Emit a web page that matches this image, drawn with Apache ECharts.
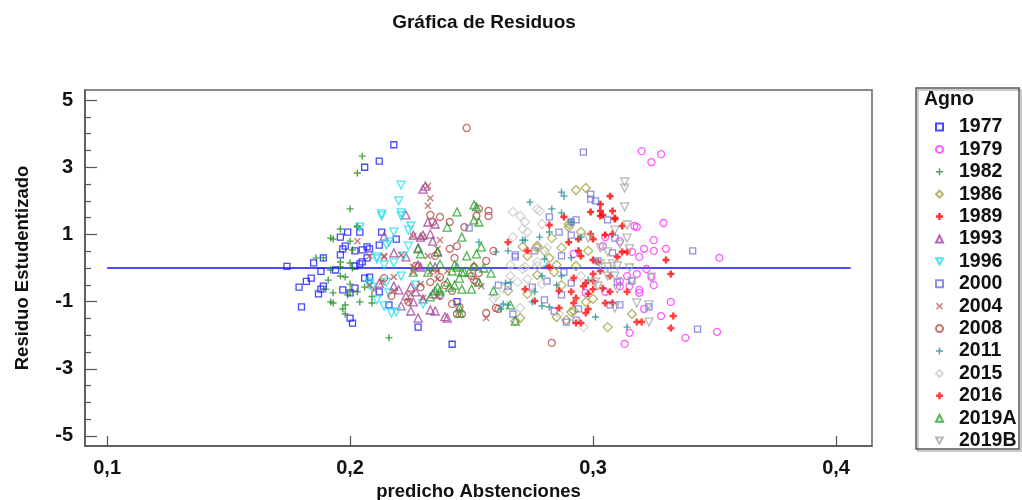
<!DOCTYPE html>
<html>
<head>
<meta charset="utf-8">
<title>Gráfica de Residuos</title>
<script src="https://cdn.jsdelivr.net/npm/echarts@6/dist/echarts.min.js"></script>
<style>
  html, body { margin: 0; padding: 0; background: #fff; }
  #chart { width: 1022px; height: 500px; }
</style>
</head>
<body>
<div id="chart"></div>
<script>
// Residuals (x: predicted abstention, y: studentized residual) by election year
const years = ['1977', '1979', '1982', '1986', '1989', '1993', '1996', '2000', '2004', '2008', '2011', '2015', '2016', '2019A', '2019B'];

const s1977 = [[0.174,0.05],[0.185,0.15],[0.189,0.30],[0.188,-0.10],[0.184,-0.30],[0.182,-0.40],[0.179,-0.57],[0.180,-1.16],[0.187,-0.77],[0.189,-0.54],[0.188,-0.63],[0.194,-0.06],[0.196,0.39],[0.197,0.57],[0.196,0.92],[0.198,0.65],[0.199,1.07],[0.204,1.07],[0.202,0.51],[0.205,0.54],[0.207,0.63],[0.208,0.57],[0.207,0.30],[0.205,0.18],[0.204,0.12],[0.202,0.06],[0.206,-0.30],[0.208,-0.27],[0.197,-0.65],[0.202,-0.60],[0.200,-0.74],[0.200,-1.49],[0.201,-1.64],[0.213,1.07],[0.212,0.68],[0.219,0.86],[0.212,-0.71],[0.216,-1.10],[0.218,3.67],[0.212,3.18],[0.206,3.00],[0.228,-1.76],[0.242,-2.27],[0.244,-1.00]];
const s1979 = [[0.320,3.48],[0.328,3.39],[0.324,3.15],[0.329,1.34],[0.318,1.22],[0.325,0.83],[0.321,0.57],[0.325,0.51],[0.330,0.57],[0.319,0.33],[0.352,0.30],[0.322,-0.03],[0.318,-0.18],[0.324,-0.27],[0.325,-0.51],[0.319,-0.65],[0.319,-0.74],[0.315,-0.54],[0.332,-1.01],[0.321,-1.22],[0.328,-1.43],[0.315,-1.93],[0.351,-1.90],[0.338,-2.08],[0.313,-2.26],[0.305,0.92],[0.304,0.65],[0.311,0.80],[0.316,0.48],[0.297,-0.74],[0.305,-0.71],[0.311,-0.54],[0.314,-0.24],[0.311,-0.39],[0.292,0.42],[0.317,1.25]];
const s1982 = [[0.200,1.76],[0.196,1.16],[0.193,0.86],[0.203,1.22],[0.200,0.80],[0.201,0.54],[0.196,0.18],[0.200,0.15],[0.186,0.30],[0.189,0.30],[0.192,-0.06],[0.196,-0.24],[0.198,-0.27],[0.191,-0.36],[0.196,0.03],[0.201,0.00],[0.200,-0.48],[0.200,-0.71],[0.203,-0.71],[0.199,-0.80],[0.190,-0.63],[0.193,-0.74],[0.193,-1.04],[0.197,-1.22],[0.198,-1.10],[0.198,-1.37],[0.204,-1.01],[0.209,-1.04],[0.206,-0.57],[0.216,-2.08],[0.205,3.33],[0.203,2.83],[0.192,0.89],[0.192,-1.01],[0.203,1.25],[0.209,-0.85]];
const s1986 = [[0.293,2.32],[0.297,2.38],[0.290,1.31],[0.295,1.07],[0.283,0.89],[0.298,0.51],[0.287,0.60],[0.277,0.60],[0.273,0.36],[0.282,0.30],[0.285,0.09],[0.293,0.06],[0.284,-0.12],[0.277,-0.21],[0.287,-0.51],[0.300,-0.92],[0.297,-1.01],[0.270,-1.49],[0.291,-1.31],[0.285,-1.46],[0.306,-1.76],[0.316,-1.37],[0.280,0.51],[0.271,0.63],[0.277,0.66],[0.265,-0.68],[0.273,-0.77],[0.268,-1.58],[0.290,1.22],[0.289,-1.55],[0.292,-1.28]];
const s1989 = [[0.307,2.14],[0.299,1.67],[0.303,1.70],[0.303,1.55],[0.308,1.70],[0.309,1.46],[0.312,1.25],[0.308,1.01],[0.305,0.98],[0.299,1.01],[0.300,0.86],[0.294,0.86],[0.290,0.77],[0.288,1.52],[0.282,1.28],[0.294,0.51],[0.295,0.36],[0.312,0.48],[0.314,0.48],[0.310,0.33],[0.300,0.24],[0.302,0.18],[0.330,0.24],[0.332,-0.18],[0.303,1.90],[0.304,1.58]];
const s1993 = [[0.230,2.35],[0.231,2.44],[0.223,1.58],[0.232,1.37],[0.235,1.31],[0.233,1.01],[0.230,0.98],[0.214,0.95],[0.229,0.92],[0.234,0.80],[0.228,0.60],[0.218,0.45],[0.223,0.33],[0.228,0.09],[0.212,-0.45],[0.218,-0.54],[0.220,-0.65],[0.225,-0.57],[0.223,-0.83],[0.230,-0.92],[0.226,-1.01],[0.221,-1.13],[0.233,-1.25],[0.235,-1.28],[0.225,-1.28],[0.228,-1.49],[0.240,-1.49],[0.226,0.98],[0.236,0.48],[0.235,0.03],[0.229,0.03],[0.227,-0.71],[0.234,-0.77],[0.239,-1.45]];
const s1996 = [[0.221,2.47],[0.220,2.00],[0.213,1.55],[0.221,1.64],[0.221,1.55],[0.225,1.25],[0.224,1.13],[0.218,1.07],[0.216,0.77],[0.215,0.68],[0.224,0.65],[0.222,0.36],[0.211,0.33],[0.218,0.15],[0.221,-0.24],[0.208,-0.42],[0.215,-0.42],[0.209,-0.57],[0.216,-0.74],[0.227,-0.51],[0.211,-0.95],[0.214,-1.13],[0.217,-1.34],[0.230,-1.07],[0.237,-0.83],[0.213,1.61],[0.204,1.22],[0.211,0.27],[0.214,0.09],[0.208,-0.51],[0.219,-1.31]];
const s2000 = [[0.296,3.45],[0.299,2.20],[0.299,2.05],[0.301,2.00],[0.306,1.43],[0.293,1.43],[0.291,1.37],[0.282,1.52],[0.286,1.07],[0.291,0.98],[0.309,0.89],[0.287,0.36],[0.308,0.45],[0.302,0.21],[0.341,0.51],[0.288,-0.12],[0.281,-0.39],[0.291,-0.45],[0.287,-0.80],[0.280,-0.95],[0.284,-1.28],[0.294,-1.22],[0.307,-1.10],[0.311,-1.10],[0.323,-1.16],[0.289,-1.61],[0.293,-1.55],[0.343,-1.82],[0.316,-0.39],[0.310,-0.42],[0.249,1.19],[0.268,0.39],[0.268,0.33],[0.261,-0.51],[0.265,-0.54],[0.267,-1.37],[0.276,0.51],[0.275,-0.57]];
const s2004 = [[0.232,2.44],[0.233,2.08],[0.232,1.85],[0.226,0.95],[0.230,0.92],[0.237,0.83],[0.214,0.36],[0.221,0.39],[0.232,0.36],[0.236,0.57],[0.208,0.36],[0.226,0.03],[0.233,-0.12],[0.226,-0.12],[0.218,-0.27],[0.236,-0.09],[0.213,-0.42],[0.210,-0.65],[0.218,-0.68],[0.225,-0.77],[0.229,-0.48],[0.236,-0.33],[0.224,-0.98],[0.230,-0.89],[0.236,-0.83],[0.254,-0.54],[0.256,-1.49],[0.240,-0.09],[0.203,0.80],[0.214,0.33],[0.208,-0.51]];
const s2008 = [[0.248,4.17],[0.233,1.58],[0.237,1.52],[0.257,1.70],[0.257,1.55],[0.253,1.76],[0.234,1.37],[0.247,1.22],[0.244,0.65],[0.241,0.57],[0.235,0.36],[0.243,0.30],[0.256,0.21],[0.259,0.51],[0.227,0.06],[0.251,0.03],[0.237,-0.27],[0.233,-0.42],[0.250,-0.24],[0.251,-0.36],[0.252,-0.42],[0.239,-0.51],[0.242,-0.68],[0.242,-1.07],[0.224,-1.01],[0.229,-0.57],[0.244,-1.37],[0.246,-1.37],[0.261,-1.22],[0.256,-1.34],[0.237,-0.83],[0.217,-0.83],[0.214,-0.30],[0.241,1.37],[0.252,1.55],[0.253,-0.15],[0.245,-1.16],[0.260,-1.19],[0.283,-2.23]];
const s2011 = [[0.287,2.26],[0.288,2.14],[0.274,1.96],[0.283,1.76],[0.287,1.64],[0.282,1.07],[0.278,0.92],[0.291,1.37],[0.295,0.92],[0.272,0.83],[0.291,0.30],[0.280,0.27],[0.279,-0.24],[0.298,-0.36],[0.285,-0.51],[0.275,-1.01],[0.279,-1.13],[0.282,-1.16],[0.301,-1.46],[0.314,-1.76],[0.281,0.06],[0.287,-0.24],[0.253,0.77],[0.260,0.48],[0.265,0.51],[0.271,0.83],[0.264,-0.45],[0.266,-0.42],[0.263,-1.07],[0.276,-0.71],[0.262,-1.22],[0.265,-1.10]];
const s2015 = [[0.267,1.67],[0.270,1.55],[0.277,1.76],[0.272,1.37],[0.279,1.31],[0.271,1.16],[0.273,1.07],[0.267,0.92],[0.277,0.57],[0.266,-0.24],[0.269,-0.42],[0.263,-0.63],[0.259,-0.92],[0.260,-0.83],[0.270,-1.19],[0.274,-0.57],[0.279,-0.48],[0.266,0.09],[0.271,-0.03],[0.277,0.18],[0.278,1.70],[0.272,0.03],[0.277,0.06],[0.273,-0.33],[0.295,-0.24],[0.286,-1.37],[0.296,-1.76],[0.281,0.60]];
const s2016 = [[0.300,-0.18],[0.303,-0.09],[0.307,-0.24],[0.297,-0.45],[0.296,-0.54],[0.300,-0.39],[0.292,-0.30],[0.291,-0.71],[0.293,-0.89],[0.298,-0.77],[0.300,-0.63],[0.304,-0.60],[0.307,-0.71],[0.314,-0.71],[0.305,-1.04],[0.308,-1.04],[0.298,-1.22],[0.292,-1.04],[0.286,-1.19],[0.286,-0.68],[0.282,0.03],[0.293,-1.64],[0.297,-1.34],[0.318,-1.61],[0.320,-1.61],[0.333,-1.43],[0.332,-1.79],[0.295,-1.64],[0.265,0.77],[0.273,0.51],[0.272,-0.63],[0.276,-0.98],[0.309,1.49]];
const s2019A = [[0.251,1.88],[0.252,1.82],[0.244,1.67],[0.240,1.22],[0.251,1.43],[0.252,0.42],[0.248,0.36],[0.236,0.48],[0.228,0.57],[0.229,0.42],[0.244,0.03],[0.246,-0.12],[0.247,-0.12],[0.249,-0.12],[0.242,-0.09],[0.251,0.06],[0.255,0.00],[0.233,0.06],[0.237,0.12],[0.240,-0.42],[0.237,-0.68],[0.235,-0.68],[0.243,-0.51],[0.246,-0.63],[0.250,-0.63],[0.245,-1.19],[0.245,-1.34],[0.268,-1.58],[0.233,-0.86],[0.259,-0.68],[0.253,1.37],[0.246,0.92],[0.254,0.63],[0.243,0.09],[0.258,-0.15],[0.245,-0.30],[0.236,-0.57],[0.241,-0.57],[0.253,-0.42],[0.266,-1.10],[0.232,-0.12],[0.226,-0.12]];
const s2019B = [[0.313,2.56],[0.313,2.38],[0.313,1.82],[0.314,1.28],[0.309,1.13],[0.298,0.89],[0.314,0.89],[0.303,0.60],[0.311,0.71],[0.306,0.48],[0.315,0.57],[0.308,0.12],[0.310,0.06],[0.315,0.00],[0.306,0.03],[0.303,0.12],[0.301,-0.42],[0.306,-0.24],[0.309,-0.24],[0.310,-0.63],[0.316,-0.39],[0.318,-1.04],[0.323,-1.10],[0.323,-1.61],[0.309,-1.19],[0.302,-0.54],[0.324,-0.27]];

const seriesValues = [s1977, s1979, s1982, s1986, s1989, s1993, s1996, s2000, s2004, s2008, s2011, s2015, s2016, s2019A, s2019B];

// Zero reference line and tick positions
const zeroLine = [[0.1, 0], [0.406, 0]];
const xTicks = [0.1, 0.2, 0.3, 0.4];
const yMajorTicks = [-5, -3, -1, 1, 3, 5];
const yMinorTicks = [-4.5, -4, -3.5, -2.5, -2, -1.5, -0.5, 0, 0.5, 1.5, 2, 2.5, 3.5, 4, 4.5];

// Marker shapes (all drawn unrotated so legend icons match the plotted marks)
const PLUS = 'path://M2,0H3V2H5V3H3V5H2V3H0V2H2Z';
const PLUS_BOLD = 'path://M1.6,0H3.4V1.6H5V3.4H3.4V5H1.6V3.4H0V1.6H1.6Z';
const CROSS = 'path://M0.7,0L2.5,1.8L4.3,0L5,0.7L3.2,2.5L5,4.3L4.3,5L2.5,3.2L0.7,5L0,4.3L1.8,2.5L0,0.7Z';
const TRI_DOWN = 'path://M0,0L10,0L5,9Z';

const markerStyles = [
  { symbol: 'rect', size: 6, color: '#1a1aff', hollow: true },
  { symbol: 'circle', size: 7, color: '#ff33ff', hollow: true },
  { symbol: PLUS, size: 7, color: '#1f8a1f' },
  { symbol: 'diamond', size: 9, color: '#a0a040', hollow: true },
  { symbol: PLUS_BOLD, size: 7, color: '#ff0000' },
  { symbol: 'triangle', size: 8, color: '#a040a0', hollow: true },
  { symbol: TRI_DOWN, size: 8, color: '#22ddee', hollow: true },
  { symbol: 'rect', size: 6, color: '#7373dd', hollow: true },
  { symbol: CROSS, size: 7, color: '#b85555' },
  { symbol: 'circle', size: 7, color: '#b84a4a', hollow: true },
  { symbol: PLUS, size: 7, color: '#1a9090' },
  { symbol: 'diamond', size: 9, color: '#cccccc', hollow: true },
  { symbol: PLUS_BOLD, size: 7, color: '#ff1010' },
  { symbol: 'triangle', size: 8, color: '#2ca02c', hollow: true },
  { symbol: TRI_DOWN, size: 8, color: '#a8a8a8', hollow: true }
];

const FONT = 'Liberation Sans, Arial, sans-serif';

const scatterSeries = years.map((name, i) => {
  const m = markerStyles[i];
  return {
    name: name,
    type: 'scatter',
    data: seriesValues[i],
    symbol: m.symbol,
    symbolSize: m.size,
    itemStyle: m.hollow
      ? { color: 'rgba(0,0,0,0)', borderColor: m.color, borderWidth: 1.3 }
      : { color: m.color, borderWidth: 0 },
    emphasis: { disabled: true },
    z: 3
  };
});

const chart = echarts.init(document.getElementById('chart'), null, { renderer: 'canvas' });

chart.setOption({
  animation: false,
  backgroundColor: '#ffffff',
  title: {
    text: 'Gráfica de Residuos',
    left: 479,
    top: 8,
    textAlign: 'center',
    textStyle: { fontFamily: FONT, fontSize: 19, fontWeight: 'bold', color: '#111' }
  },
  grid: {
    left: 85, right: 150, top: 90, bottom: 54,
    outerBoundsMode: 'none',
    show: true, borderColor: '#666', borderWidth: 1.5
  },
  legend: {
    orient: 'vertical',
    left: 930,
    top: 112,
    itemWidth: 7,
    itemHeight: 7,
    itemGap: 2.4,
    selectedMode: false,
    data: years,
    textStyle: {
      fontFamily: FONT, fontSize: 19.5, fontWeight: 'bold', color: '#111',
      lineHeight: 20, padding: [0, 0, 0, 11]
    }
  },
  graphic: [
    {
      type: 'rect',
      shape: { x: 918, y: 90, width: 103, height: 361 },
      style: { fill: 'none', stroke: '#bbb', lineWidth: 1.5 },
      silent: true
    },
    {
      type: 'rect',
      shape: { x: 916, y: 88, width: 103, height: 361 },
      style: { fill: 'none', stroke: '#555', lineWidth: 1.5 },
      silent: true
    },
    {
      type: 'text',
      x: 924, y: 100,
      style: {
        text: 'Agno', fontFamily: FONT, fontSize: 19.5, fontWeight: 'bold',
        fill: '#111', verticalAlign: 'middle'
      },
      silent: true
    }
  ],
  xAxis: {
    type: 'value',
    min: 0.0909,
    max: 0.4148,
    name: 'predicho Abstenciones',
    nameLocation: 'middle',
    nameGap: 36,
    nameTextStyle: { fontFamily: FONT, fontSize: 18.5, fontWeight: 'bold', color: '#111' },
    axisLine: { show: true, onZero: false, lineStyle: { color: '#555', width: 1.5 } },
    axisTick: { show: true, inside: true, length: 10, customValues: xTicks, lineStyle: { color: '#555', width: 1.2 } },
    axisLabel: {
      customValues: xTicks, margin: 12,
      fontFamily: FONT, fontSize: 20, fontWeight: 'bold', color: '#111',
      formatter: v => v.toFixed(1).replace('.', ',')
    },
    splitLine: { show: false }
  },
  yAxis: [
    {
      type: 'value',
      min: -5.3,
      max: 5.3,
      name: 'Residuo Estudentizado',
      nameLocation: 'middle',
      nameRotate: 90,
      nameGap: 53,
      nameTextStyle: { fontFamily: FONT, fontSize: 18.5, fontWeight: 'bold', color: '#111', padding: [0, 0, 0, 0] },
      axisLine: { show: true, onZero: false, lineStyle: { color: '#555', width: 1.5 } },
      axisTick: { show: true, inside: true, length: 12, customValues: yMajorTicks, lineStyle: { color: '#555', width: 1.2 } },
      axisLabel: {
        customValues: yMajorTicks, margin: 12,
        fontFamily: FONT, fontSize: 20, fontWeight: 'bold', color: '#111',
        formatter: v => String(v)
      },
      splitLine: { show: false }
    },
    {
      type: 'value',
      min: -5.3,
      max: 5.3,
      position: 'left',
      axisLine: { show: false, onZero: false },
      axisTick: { show: true, inside: true, length: 6, customValues: yMinorTicks, lineStyle: { color: '#555', width: 1.2 } },
      axisLabel: { show: false },
      splitLine: { show: false }
    }
  ],
  series: [
    {
      name: 'cero',
      type: 'line',
      data: zeroLine,
      symbol: 'none',
      lineStyle: { color: '#1010ff', width: 1.5 },
      silent: true,
      z: 2
    }
  ].concat(scatterSeries)
});
</script>
</body>
</html>
